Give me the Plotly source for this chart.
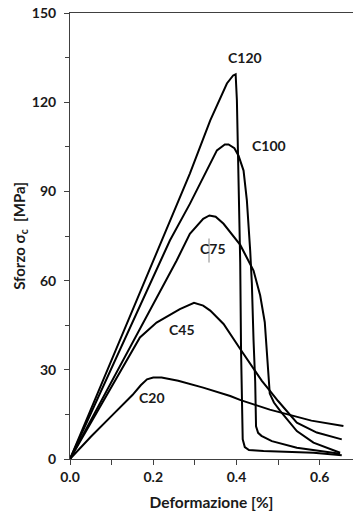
import plotly.graph_objects as go

# ---- data (deformation [%], stress [MPa]) ----
c20_x = [0.0, 0.05, 0.10, 0.15, 0.17, 0.185, 0.20, 0.22, 0.26, 0.32, 0.385, 0.41, 0.48, 0.52, 0.58, 0.657]
c20_y = [0.0, 7.5, 14.5, 21.5, 24.8, 26.8, 27.4, 27.4, 26.3, 24.0, 21.2, 19.8, 16.6, 15.2, 12.9, 11.1]

c45_x = [0.0, 0.08, 0.168, 0.208, 0.264, 0.298, 0.32, 0.337, 0.369, 0.409, 0.461, 0.48, 0.50, 0.545, 0.593, 0.653]
c45_y = [0.0, 19.5, 40.9, 45.9, 50.4, 52.5, 51.6, 49.9, 45.4, 37.0, 26.3, 23.0, 19.5, 12.2, 8.9, 6.6]

c75_x = [0.0, 0.256, 0.288, 0.32, 0.335, 0.35, 0.369, 0.393, 0.409, 0.441, 0.457, 0.468, 0.474, 0.477, 0.48, 0.49, 0.505, 0.545, 0.585, 0.649]
c75_y = [0.0, 66.7, 75.7, 80.8, 81.9, 81.5, 79.1, 75.0, 72.0, 63.4, 55.0, 46.0, 36.0, 28.0, 22.0, 19.0, 16.2, 9.4, 5.5, 2.1]

c100_x = [0.0, 0.24, 0.288, 0.32, 0.353, 0.372, 0.381, 0.395, 0.405, 0.417, 0.425, 0.433, 0.437, 0.441, 0.445, 0.447, 0.452, 0.46, 0.485, 0.545, 0.649]
c100_y = [0.0, 73.5, 85.8, 94.8, 103.8, 105.8, 105.8, 104.5, 102.0, 97.0, 87.0, 70.0, 58.9, 40.0, 26.0, 11.0, 8.8, 7.8, 6.0, 3.8, 1.8]

c120_x = [0.0, 0.24, 0.288, 0.337, 0.377, 0.392, 0.398, 0.401, 0.405, 0.409, 0.411, 0.413, 0.415, 0.42, 0.43, 0.465, 0.585, 0.653]
c120_y = [0.0, 80.2, 96.0, 113.9, 126.3, 129.0, 129.4, 120.7, 98.2, 66.0, 36.4, 20.0, 6.6, 4.0, 3.0, 2.7, 2.1, 1.3]

labels = ["C20", "C45", "C75", "C100", "C120"]
label_x = [0.196, 0.270, 0.3425, 0.477, 0.420]
label_y = [20.7, 43.7, 70.7, 105.3, 135.2]

x_ticks = [0.0, 0.2, 0.4, 0.6]
y_ticks = [0, 30, 60, 90, 120, 150]

FONT = "Lato"
TXT = "#1a1a1a"

fig = go.Figure()
for xs, ys, name in [(c20_x, c20_y, "C20"), (c45_x, c45_y, "C45"), (c75_x, c75_y, "C75"),
                     (c100_x, c100_y, "C100"), (c120_x, c120_y, "C120")]:
    fig.add_trace(go.Scatter(x=xs, y=ys, mode="lines", name=name,
                             line=dict(color="black", width=2),
                             showlegend=False, hoverinfo="skip"))

for t, lx, ly in zip(labels, label_x, label_y):
    fig.add_annotation(x=lx, y=ly, text="<b>" + t + "</b>", showarrow=False,
                       font=dict(family=FONT, size=14, color=TXT),
                       xanchor="center", yanchor="middle")

# small cursor-like stroke through the C75 label (as in the original image)
fig.add_shape(type="line", xref="paper", yref="paper",
              x0=(209 - 70) / 283, x1=(209 - 70) / 283,
              y0=(458 - 262) / 445, y1=(458 - 238) / 445,
              line=dict(color="#888888", width=1))

fig.update_xaxes(range=[0, 0.68], tickvals=x_ticks, ticktext=["<b>%.1f</b>" % v for v in x_ticks],
                 showline=True, linecolor="#404040", linewidth=1, mirror=True,
                 ticks="outside", ticklen=5, tickcolor="#404040",
                 minor=dict(dtick=0.1, ticks="outside", ticklen=5, tickcolor="#404040", showgrid=False),
                 showgrid=False, zeroline=False, automargin=False,
                 tickfont=dict(family=FONT, size=14, color=TXT),
                 title=dict(text="<b>Deformazione [%]</b>", font=dict(family=FONT, size=15.5, color=TXT),
                            standoff=13))
fig.update_yaxes(range=[0, 150], tickvals=y_ticks, ticktext=["<b>%d</b>" % v for v in y_ticks],
                 showline=True, linecolor="#404040", linewidth=1,
                 ticks="outside", ticklen=5, tickcolor="#404040", ticklabelstandoff=5,
                 minor=dict(dtick=15, ticks="outside", ticklen=4, tickcolor="#404040", showgrid=False),
                 showgrid=False, zeroline=False, automargin=False,
                 tickfont=dict(family=FONT, size=14, color=TXT),
                 title=dict(text="<b>Sforzo σ<sub>c</sub>  [MPa]</b>", font=dict(family=FONT, size=15, color=TXT),
                            standoff=2))

fig.update_layout(width=353, height=511, margin=dict(l=70, r=0, t=13, b=52),
                  plot_bgcolor="white", paper_bgcolor="white")

fig.write_html("out.html", config={"displayModeBar": False},
               post_script="document.body.style.margin='0px';")
